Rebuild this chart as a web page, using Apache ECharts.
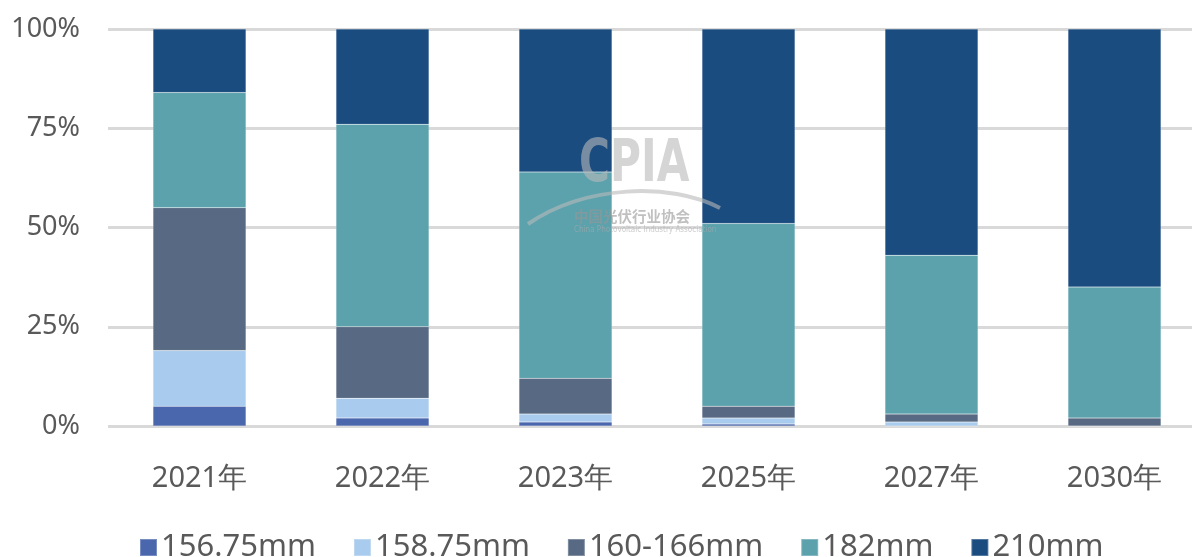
<!DOCTYPE html>
<html><head><meta charset="utf-8">
<script src="https://cdn.jsdelivr.net/npm/echarts@6/dist/echarts.min.js"></script>
<style>html,body{margin:0;padding:0;background:#fff}#c{width:1192px;height:557px}</style>
</head><body><div id="c"></div>
<script>
const categories = ['2021年','2022年','2023年','2025年','2027年','2030年'];
const s15675 = [5, 2, 1, 0.5, 0, 0];
const s15875 = [14, 5, 2, 1.5, 1, 0];
const s160166 = [36, 18, 9, 3, 2, 2];
const s182 = [29, 51, 52, 46, 40, 33];
const s210 = [16, 24, 36, 49, 57, 65];
const seriesNames = ['156.75mm','158.75mm','160-166mm','182mm','210mm'];
const yTicks = ['0%','25%','50%','75%','100%'];
const colors = ['#4a66ad','#a9cbed','#586983','#5ba2ad','#1b4c80'];
const font = '"Noto Sans", sans-serif';
const data = [s15675, s15875, s160166, s182, s210];
const chart = echarts.init(document.getElementById('c'));
chart.setOption({
  animation: false,
  color: colors,
  grid: {left: 108, width: 1098, top: 29, bottom: 131, containLabel: false, outerBoundsMode: 'none'},
  legend: {
    bottom: -11, left: 134, itemWidth: 17, itemHeight: 17, itemGap: 37,
    icon: 'rect',
    textStyle: {fontFamily: font, fontSize: 31, color: '#595959', padding: [0, 0, 0, -1]}
  },
  xAxis: {
    type: 'category', data: categories,
    axisLine: {show: false}, axisTick: {show: false},
    axisLabel: {fontFamily: font, fontSize: 29, color: '#595959', margin: 38}
  },
  yAxis: {
    type: 'value', min: 0, max: 100, interval: 25,
    axisLabel: {fontFamily: font, fontSize: 27, color: '#595959', margin: 28,
      formatter: v => yTicks[v/25]},
    splitLine: {lineStyle: {color: '#d9d9d9', width: 3}},
    axisLine: {show: false}, axisTick: {show: false}
  },
  graphic: [
    {type: 'bezierCurve', z: 100, shape: {x1: 528, y1: 224, x2: 720, y2: 208, cpx1: 585, cpy1: 185, cpx2: 670, cpy2: 182},
      style: {stroke: 'rgba(185,185,185,0.6)', lineWidth: 4, fill: null}},
    {type: 'text', z: 100, x: 579, y: 137, scaleX: 0.81, style: {text: 'CPIA', font: 'bold 58px "DejaVu Sans Condensed", "DejaVu Sans", sans-serif', fill: 'rgba(185,185,185,0.6)'}},
    {type: 'text', z: 100, left: 574, top: 209, style: {text: '中国光伏行业协会', font: 'bold 14.5px "Noto Sans CJK SC", sans-serif', fill: 'rgba(150,150,150,0.6)'}},
    {type: 'text', z: 100, left: 574, top: 226, style: {text: 'China Photovoltaic Industry Association', font: '8px "DejaVu Sans Condensed", sans-serif', fill: 'rgba(170,170,170,0.6)'}}
  ],
  series: data.map((d, i) => ({
    name: seriesNames[i], type: 'bar', stack: 'total', barWidth: 93, data: d,
    itemStyle: {borderColor: 'rgba(255,255,255,0.25)', borderWidth: 0.5}
  }))
});
</script></body></html>
